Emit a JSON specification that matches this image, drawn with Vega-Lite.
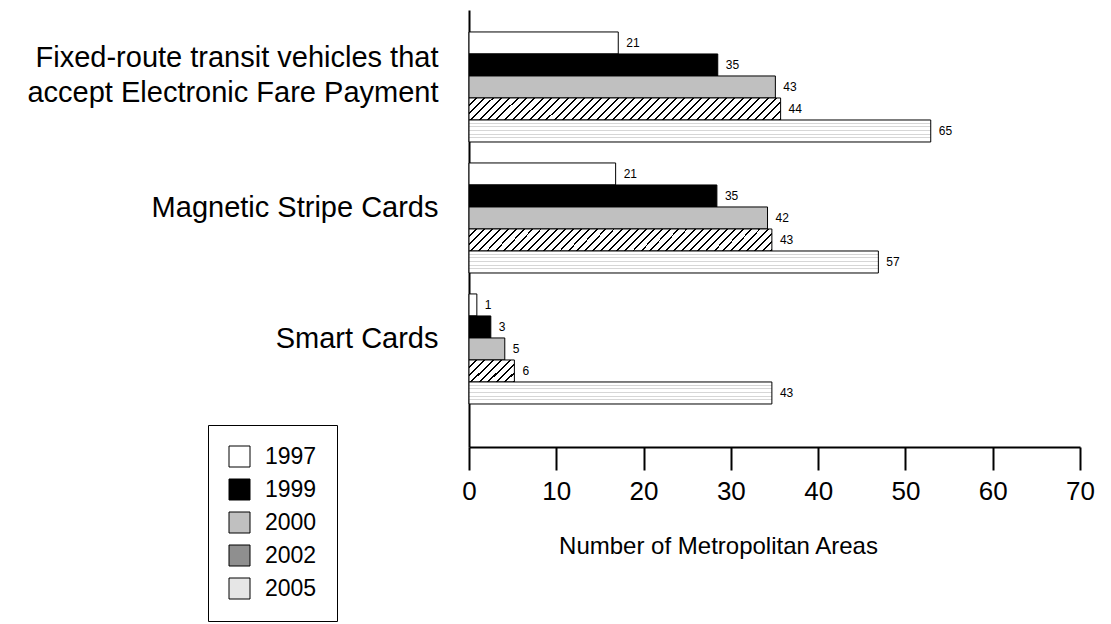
{
  "$schema": "https://vega.github.io/schema/vega-lite/v6.json",
  "width": 611,
  "height": 437,
  "autosize": {"type": "none"},
  "padding": {"left": 469, "top": 10, "right": 31, "bottom": 177},
  "background": "white",
  "config": {"view": {"stroke": null}, "font": "Liberation Sans"},
  "data": {
    "values": [
      {"category": "Fixed-route transit vehicles that accept Electronic Fare Payment", "year": "1997", "bar": 17.1, "label": 21},
      {"category": "Fixed-route transit vehicles that accept Electronic Fare Payment", "year": "1999", "bar": 28.5, "label": 35},
      {"category": "Fixed-route transit vehicles that accept Electronic Fare Payment", "year": "2000", "bar": 35.1, "label": 43},
      {"category": "Fixed-route transit vehicles that accept Electronic Fare Payment", "year": "2002", "bar": 35.7, "label": 44},
      {"category": "Fixed-route transit vehicles that accept Electronic Fare Payment", "year": "2005", "bar": 52.9, "label": 65},
      {"category": "Magnetic Stripe Cards", "year": "1997", "bar": 16.8, "label": 21},
      {"category": "Magnetic Stripe Cards", "year": "1999", "bar": 28.4, "label": 35},
      {"category": "Magnetic Stripe Cards", "year": "2000", "bar": 34.2, "label": 42},
      {"category": "Magnetic Stripe Cards", "year": "2002", "bar": 34.7, "label": 43},
      {"category": "Magnetic Stripe Cards", "year": "2005", "bar": 46.9, "label": 57},
      {"category": "Smart Cards", "year": "1997", "bar": 0.9, "label": 1},
      {"category": "Smart Cards", "year": "1999", "bar": 2.5, "label": 3},
      {"category": "Smart Cards", "year": "2000", "bar": 4.1, "label": 5},
      {"category": "Smart Cards", "year": "2002", "bar": 5.2, "label": 6},
      {"category": "Smart Cards", "year": "2005", "bar": 34.7, "label": 43}
    ]
  },
  "encoding": {
    "y": {
      "field": "category",
      "type": "nominal",
      "scale": {
        "type": "band",
        "domain": ["Fixed-route transit vehicles that accept Electronic Fare Payment", "Magnetic Stripe Cards", "Smart Cards"],
        "paddingInner": 0.16,
        "paddingOuter": 0.248,
        "align": 0.338
      },
      "axis": {
        "title": null,
        "ticks": false,
        "domain": true,
        "domainColor": "#000",
        "domainWidth": 2,
        "labelFontSize": 29,
        "labelColor": "#000",
        "labelLimit": 600,
        "labelPadding": 31,
        "labelOffset": {"condition": {"test": "datum.value == 'Fixed-route transit vehicles that accept Electronic Fare Payment'", "value": -29}, "value": -10},
        "labelLineHeight": 35,
        "labelAlign": "right",
        "labelBaseline": "middle",
        "grid": false,
        "labelExpr": "datum.value == 'Fixed-route transit vehicles that accept Electronic Fare Payment' ? ['Fixed-route transit vehicles that', 'accept Electronic Fare Payment'] : datum.value"
      }
    },
    "yOffset": {
      "field": "year",
      "type": "nominal",
      "scale": {"domain": ["1997", "1999", "2000", "2002", "2005"], "paddingInner": 0, "paddingOuter": 0}
    },
    "x": {
      "field": "bar",
      "type": "quantitative",
      "scale": {"domain": [0, 70], "nice": false, "zero": true},
      "axis": {
        "values": [0, 10, 20, 30, 40, 50, 60, 70],
        "grid": false,
        "tickSize": 23,
        "tickWidth": 2,
        "tickColor": "#000",
        "domainColor": "#000",
        "domainWidth": 2,
        "labelFontSize": 26,
        "labelColor": "#000",
        "labelPadding": 8,
        "labelFlush": false,
        "labelOverlap": false,
        "labelBound": false,
        "title": "Number of Metropolitan Areas",
        "titleFontSize": 24,
        "titleFontWeight": "normal",
        "titleColor": "#000",
        "titleX": 249,
        "titleY": 106,
        "titleAlign": "center",
        "titleBaseline": "alphabetic"
      }
    }
  },
  "layer": [
    {
      "mark": {"type": "bar", "stroke": "#000", "strokeWidth": 1, "opacity": 1, "cornerRadius": 0},
      "encoding": {
        "fill": {
          "field": "year",
          "type": "nominal",
          "scale": {
            "domain": ["1997", "1999", "2000", "2002", "2005"],
            "range": ["#ffffff", "#000000", "#c0c0c0", "#8f8f8f", "#e6e6e6"]
          },
          "legend": {
            "orient": "none",
            "legendX": -261,
            "legendY": 415,
            "title": null,
            "padding": 20,
            "strokeColor": "#000",
            "fillColor": "#fff",
            "symbolType": "square",
            "symbolSize": 441,
            "symbolStrokeColor": "#000",
            "symbolStrokeWidth": 1,
            "symbolOpacity": 1,
            "labelFontSize": 23,
            "labelColor": "#000",
            "labelOffset": 14,
            "rowPadding": 8,
            "encode": {
              "symbols": {
                "update": {
                  "stroke": {"value": "#000"},
                  "strokeWidth": {"value": 1}
                }
              }
            }
          },
          "condition": [
            {"test": "datum.year === '2002' && datum.category === 'Smart Cards'", "value": {"gradient": "linear", "x1": 0, "y1": 0, "x2": 1.2, "y2": 0.6, "stops": [
              {"offset": 0, "color": "#fff"}, {"offset": 0.094, "color": "#fff"}, {"offset": 0.094, "color": "#000"}, {"offset": 0.125, "color": "#000"},
              {"offset": 0.125, "color": "#fff"}, {"offset": 0.219, "color": "#fff"}, {"offset": 0.219, "color": "#000"}, {"offset": 0.25, "color": "#000"},
              {"offset": 0.25, "color": "#fff"}, {"offset": 0.344, "color": "#fff"}, {"offset": 0.344, "color": "#000"}, {"offset": 0.375, "color": "#000"},
              {"offset": 0.375, "color": "#fff"}, {"offset": 0.469, "color": "#fff"}, {"offset": 0.469, "color": "#000"}, {"offset": 0.5, "color": "#000"},
              {"offset": 0.5, "color": "#fff"}, {"offset": 0.594, "color": "#fff"}, {"offset": 0.594, "color": "#000"}, {"offset": 0.625, "color": "#000"},
              {"offset": 0.625, "color": "#fff"}, {"offset": 0.719, "color": "#fff"}, {"offset": 0.719, "color": "#000"}, {"offset": 0.75, "color": "#000"},
              {"offset": 0.75, "color": "#fff"}, {"offset": 0.844, "color": "#fff"}, {"offset": 0.844, "color": "#000"}, {"offset": 0.875, "color": "#000"},
              {"offset": 0.875, "color": "#fff"}, {"offset": 0.969, "color": "#fff"}, {"offset": 0.969, "color": "#000"}, {"offset": 1, "color": "#000"}
            ]}},
            {"test": "datum.year === '2002'", "value": {"gradient": "linear", "x1": 0, "y1": 0, "x2": 1.0656, "y2": 0.0757, "stops": [
              {"offset": 0, "color": "#fff"}, {"offset": 0.019, "color": "#fff"}, {"offset": 0.019, "color": "#000"}, {"offset": 0.025, "color": "#000"},
              {"offset": 0.025, "color": "#fff"}, {"offset": 0.044, "color": "#fff"}, {"offset": 0.044, "color": "#000"}, {"offset": 0.05, "color": "#000"},
              {"offset": 0.05, "color": "#fff"}, {"offset": 0.069, "color": "#fff"}, {"offset": 0.069, "color": "#000"}, {"offset": 0.075, "color": "#000"},
              {"offset": 0.075, "color": "#fff"}, {"offset": 0.094, "color": "#fff"}, {"offset": 0.094, "color": "#000"}, {"offset": 0.1, "color": "#000"},
              {"offset": 0.1, "color": "#fff"}, {"offset": 0.119, "color": "#fff"}, {"offset": 0.119, "color": "#000"}, {"offset": 0.125, "color": "#000"},
              {"offset": 0.125, "color": "#fff"}, {"offset": 0.144, "color": "#fff"}, {"offset": 0.144, "color": "#000"}, {"offset": 0.15, "color": "#000"},
              {"offset": 0.15, "color": "#fff"}, {"offset": 0.169, "color": "#fff"}, {"offset": 0.169, "color": "#000"}, {"offset": 0.175, "color": "#000"},
              {"offset": 0.175, "color": "#fff"}, {"offset": 0.194, "color": "#fff"}, {"offset": 0.194, "color": "#000"}, {"offset": 0.2, "color": "#000"},
              {"offset": 0.2, "color": "#fff"}, {"offset": 0.219, "color": "#fff"}, {"offset": 0.219, "color": "#000"}, {"offset": 0.225, "color": "#000"},
              {"offset": 0.225, "color": "#fff"}, {"offset": 0.244, "color": "#fff"}, {"offset": 0.244, "color": "#000"}, {"offset": 0.25, "color": "#000"},
              {"offset": 0.25, "color": "#fff"}, {"offset": 0.269, "color": "#fff"}, {"offset": 0.269, "color": "#000"}, {"offset": 0.275, "color": "#000"},
              {"offset": 0.275, "color": "#fff"}, {"offset": 0.294, "color": "#fff"}, {"offset": 0.294, "color": "#000"}, {"offset": 0.3, "color": "#000"},
              {"offset": 0.3, "color": "#fff"}, {"offset": 0.319, "color": "#fff"}, {"offset": 0.319, "color": "#000"}, {"offset": 0.325, "color": "#000"},
              {"offset": 0.325, "color": "#fff"}, {"offset": 0.344, "color": "#fff"}, {"offset": 0.344, "color": "#000"}, {"offset": 0.35, "color": "#000"},
              {"offset": 0.35, "color": "#fff"}, {"offset": 0.369, "color": "#fff"}, {"offset": 0.369, "color": "#000"}, {"offset": 0.375, "color": "#000"},
              {"offset": 0.375, "color": "#fff"}, {"offset": 0.394, "color": "#fff"}, {"offset": 0.394, "color": "#000"}, {"offset": 0.4, "color": "#000"},
              {"offset": 0.4, "color": "#fff"}, {"offset": 0.419, "color": "#fff"}, {"offset": 0.419, "color": "#000"}, {"offset": 0.425, "color": "#000"},
              {"offset": 0.425, "color": "#fff"}, {"offset": 0.444, "color": "#fff"}, {"offset": 0.444, "color": "#000"}, {"offset": 0.45, "color": "#000"},
              {"offset": 0.45, "color": "#fff"}, {"offset": 0.469, "color": "#fff"}, {"offset": 0.469, "color": "#000"}, {"offset": 0.475, "color": "#000"},
              {"offset": 0.475, "color": "#fff"}, {"offset": 0.494, "color": "#fff"}, {"offset": 0.494, "color": "#000"}, {"offset": 0.5, "color": "#000"},
              {"offset": 0.5, "color": "#fff"}, {"offset": 0.519, "color": "#fff"}, {"offset": 0.519, "color": "#000"}, {"offset": 0.525, "color": "#000"},
              {"offset": 0.525, "color": "#fff"}, {"offset": 0.544, "color": "#fff"}, {"offset": 0.544, "color": "#000"}, {"offset": 0.55, "color": "#000"},
              {"offset": 0.55, "color": "#fff"}, {"offset": 0.569, "color": "#fff"}, {"offset": 0.569, "color": "#000"}, {"offset": 0.575, "color": "#000"},
              {"offset": 0.575, "color": "#fff"}, {"offset": 0.594, "color": "#fff"}, {"offset": 0.594, "color": "#000"}, {"offset": 0.6, "color": "#000"},
              {"offset": 0.6, "color": "#fff"}, {"offset": 0.619, "color": "#fff"}, {"offset": 0.619, "color": "#000"}, {"offset": 0.625, "color": "#000"},
              {"offset": 0.625, "color": "#fff"}, {"offset": 0.644, "color": "#fff"}, {"offset": 0.644, "color": "#000"}, {"offset": 0.65, "color": "#000"},
              {"offset": 0.65, "color": "#fff"}, {"offset": 0.669, "color": "#fff"}, {"offset": 0.669, "color": "#000"}, {"offset": 0.675, "color": "#000"},
              {"offset": 0.675, "color": "#fff"}, {"offset": 0.694, "color": "#fff"}, {"offset": 0.694, "color": "#000"}, {"offset": 0.7, "color": "#000"},
              {"offset": 0.7, "color": "#fff"}, {"offset": 0.719, "color": "#fff"}, {"offset": 0.719, "color": "#000"}, {"offset": 0.725, "color": "#000"},
              {"offset": 0.725, "color": "#fff"}, {"offset": 0.744, "color": "#fff"}, {"offset": 0.744, "color": "#000"}, {"offset": 0.75, "color": "#000"},
              {"offset": 0.75, "color": "#fff"}, {"offset": 0.769, "color": "#fff"}, {"offset": 0.769, "color": "#000"}, {"offset": 0.775, "color": "#000"},
              {"offset": 0.775, "color": "#fff"}, {"offset": 0.794, "color": "#fff"}, {"offset": 0.794, "color": "#000"}, {"offset": 0.8, "color": "#000"},
              {"offset": 0.8, "color": "#fff"}, {"offset": 0.819, "color": "#fff"}, {"offset": 0.819, "color": "#000"}, {"offset": 0.825, "color": "#000"},
              {"offset": 0.825, "color": "#fff"}, {"offset": 0.844, "color": "#fff"}, {"offset": 0.844, "color": "#000"}, {"offset": 0.85, "color": "#000"},
              {"offset": 0.85, "color": "#fff"}, {"offset": 0.869, "color": "#fff"}, {"offset": 0.869, "color": "#000"}, {"offset": 0.875, "color": "#000"},
              {"offset": 0.875, "color": "#fff"}, {"offset": 0.894, "color": "#fff"}, {"offset": 0.894, "color": "#000"}, {"offset": 0.9, "color": "#000"},
              {"offset": 0.9, "color": "#fff"}, {"offset": 0.919, "color": "#fff"}, {"offset": 0.919, "color": "#000"}, {"offset": 0.925, "color": "#000"},
              {"offset": 0.925, "color": "#fff"}, {"offset": 0.944, "color": "#fff"}, {"offset": 0.944, "color": "#000"}, {"offset": 0.95, "color": "#000"},
              {"offset": 0.95, "color": "#fff"}, {"offset": 0.969, "color": "#fff"}, {"offset": 0.969, "color": "#000"}, {"offset": 0.975, "color": "#000"},
              {"offset": 0.975, "color": "#fff"}, {"offset": 0.994, "color": "#fff"}, {"offset": 0.994, "color": "#000"}, {"offset": 1, "color": "#000"}
            ]}},
            {"test": "datum.year === '2005'", "value": {"gradient": "linear", "x1": 0, "y1": 0, "x2": 0, "y2": 1, "stops": [
              {"offset": 0, "color": "#fff"}, {"offset": 0.12, "color": "#fff"}, {"offset": 0.12, "color": "#d6d6d6"}, {"offset": 0.167, "color": "#d6d6d6"},
              {"offset": 0.167, "color": "#fff"}, {"offset": 0.287, "color": "#fff"}, {"offset": 0.287, "color": "#d6d6d6"}, {"offset": 0.333, "color": "#d6d6d6"},
              {"offset": 0.333, "color": "#fff"}, {"offset": 0.453, "color": "#fff"}, {"offset": 0.453, "color": "#d6d6d6"}, {"offset": 0.5, "color": "#d6d6d6"},
              {"offset": 0.5, "color": "#fff"}, {"offset": 0.62, "color": "#fff"}, {"offset": 0.62, "color": "#d6d6d6"}, {"offset": 0.667, "color": "#d6d6d6"},
              {"offset": 0.667, "color": "#fff"}, {"offset": 0.787, "color": "#fff"}, {"offset": 0.787, "color": "#d6d6d6"}, {"offset": 0.833, "color": "#d6d6d6"},
              {"offset": 0.833, "color": "#fff"}, {"offset": 1, "color": "#fff"}
            ]}}
          ]
        }
      }
    },
    {
      "mark": {"type": "text", "align": "left", "baseline": "middle", "dx": 8, "fontSize": 12, "color": "#000"},
      "encoding": {"text": {"field": "label", "type": "quantitative"}}
    }
  ]
}
